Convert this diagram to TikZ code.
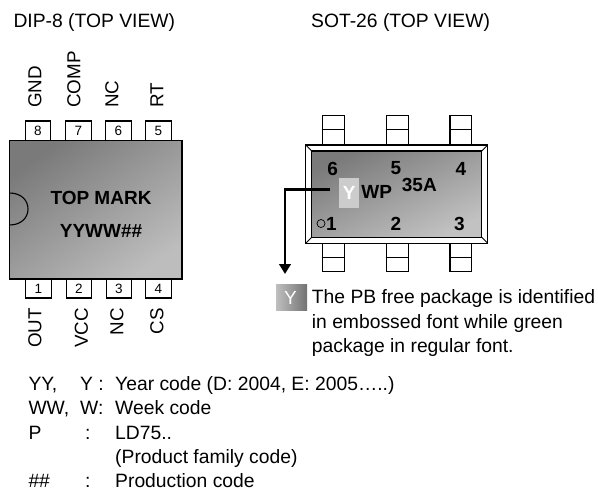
\documentclass[tikz,border=0pt]{standalone}
\usepackage{fontspec}
\setmainfont{Liberation Sans}
\usetikzlibrary{arrows.meta}
\newcommand{\fs}[1]{\fontsize{#1}{#1}\selectfont}
\tikzset{
  x=1pt,y=-1pt,
  line/.style={draw=black,line width=1.1pt},
  pinbox/.style={line,fill=white,minimum width=25.5pt,minimum height=19pt,inner sep=0pt,font=\fs{13.5}},
  pinbare/.style={line,fill=white,minimum width=21.7pt,inner sep=0pt},
  pinname/.style={rotate=90,inner sep=0pt,font=\fs{18.8}},
  bodytext/.style={inner sep=0pt,font=\fs{19}\bfseries},
  sotnum/.style={inner sep=0pt,font=\fs{19}\bfseries},
  plain/.style={inner sep=0pt,anchor=base west,font=\fs{19.3}},
  title/.style={inner sep=0pt,anchor=base west,font=\fs{19.3}},
}
\begin{document}
\begin{tikzpicture}
\useasboundingbox (0,0) rectangle (598,491);
% titles
\node[title] (t1) at (13.3,27) {DIP-8 (TOP VIEW)};
\node[title] (t2) at (311,27) {SOT-26 (TOP VIEW)};
% DIP pins
\node[pinbox,minimum height=20pt] (p8) at (38,131) {8};
\node[pinbox,minimum height=20pt] (p7) at (78.5,131) {7};
\node[pinbox,minimum height=20pt] (p6) at (118.5,131) {6};
\node[pinbox,minimum height=20pt] (p5) at (158.5,131) {5};
\node[pinbox] (p1) at (38.5,288.5) {1};
\node[pinbox] (p2) at (79,288.5) {2};
\node[pinbox] (p3) at (119,288.5) {3};
\node[pinbox] (p4) at (158.5,288.5) {4};
% DIP body
\shade[top color=black!52,bottom color=black!26,shading angle=35] (9.5,140.5) rectangle (182,279);
\draw[line] (9.5,140.5) rectangle (182,279);
\draw[line] (9.5,193) .. controls (22,193) and (28,201) .. (28,209) .. controls (28,217) and (22,225) .. (9.5,225);
\node[bodytext] (top) at (101,197.5) {TOP MARK};
\node[bodytext] (yy) at (101,231) {YYWW\#\#};
% DIP pin names
\node[pinname,anchor=west] (n8) at (35,108) {GND};
\node[pinname,anchor=west] (n7) at (74,108) {COMP};
\node[pinname,anchor=west] (n6) at (112,108) {NC};
\node[pinname,anchor=west] (n5) at (157,108) {RT};
\node[pinname,anchor=east] (n1) at (35,308) {OUT};
\node[pinname,anchor=east] (n2) at (81.5,308) {VCC};
\node[pinname,anchor=east] (n3) at (117,308) {NC};
\node[pinname,anchor=east] (n4) at (157,308) {CS};
% SOT pins
\foreach \xa/\nm in {333.2/a,397.5/b,460.8/c}{
  \node[pinbare,minimum height=14.3pt] (up\nm) at (\xa,122.7) {};
  \node[pinbare,minimum height=15.7pt] (um\nm) at (\xa,137.2) {};
  \node[pinbare,minimum height=14.4pt] (dm\nm) at (\xa,250.5) {};
  \node[pinbare,minimum height=13.3pt] (dn\nm) at (\xa,264.4) {};
}
% SOT body
\draw[line,fill=white] (305.7,145) rectangle (487.7,243.3);
\shade[top color=black!52,bottom color=black!24,shading angle=25] (311.7,151) rectangle (481.7,237.3);
\draw[line,line width=1.4pt] (311.7,151) rectangle (481.7,237.3);
\draw[line,line width=.9pt] (305.7,145) -- (311.7,151) (487.7,145) -- (481.7,151) (305.7,243.3) -- (311.7,237.3) (487.7,243.3) -- (481.7,237.3);
\node[sotnum] (s6) at (332.7,168.5) {6};
\node[sotnum] (s5) at (396,168.5) {5};
\node[sotnum] (s4) at (461,168.5) {4};
\node[sotnum] (s1) at (331.5,223.5) {1};
\node[sotnum] (s2) at (396,223.5) {2};
\node[sotnum] (s3) at (459.3,223.5) {3};
\node[draw=black,line width=.7pt,circle,minimum size=8pt,inner sep=0pt] (dot) at (321,223.5) {};
\node[sotnum] (code) at (419.3,185) {35A};
\node[sotnum] (wp) at (376.7,191.7) {WP};
\node[fill=black!20,minimum width=19.7pt,minimum height=30pt,inner sep=0pt,text=white,font=\fs{19}\bfseries] (ybox) at (349.2,193.3) {Y};
\coordinate (a0) at (330,189.7);
\coordinate (a1) at (285,189.7);
\coordinate (a2) at (285,274);
\draw[line width=2.7pt,-{Triangle[length=10pt,width=11.5pt]}] (a0) -- (a1) -- (a2);
% legend
\shade[left color=black!25,right color=black!55] (276,284) rectangle (307,310.7);
\node[inner sep=0pt,text=white,font=\fs{19}] (ylegend) at (290.5,298) {Y};
\node[plain] (l1) at (311.7,303) {The PB free package is identified};
\node[plain] (l2) at (311.7,328) {in embossed font while green};
\node[plain] (l3) at (311.7,352) {package in regular font.};
% key
\node[plain] (k1a) at (28.3,390.5) {YY,};
\node[plain] (k1b) at (80,390.5) {Y :};
\node[plain] (k1c) at (115,390.5) {Year code (D: 2004, E: 2005…..)};
\node[plain] (k2a) at (28.3,414.5) {WW,};
\node[plain] (k2b) at (80,414.5) {W:};
\node[plain] (k2c) at (115,414.5) {Week code};
\node[plain] (k3a) at (28.3,439) {P};
\node[plain] (k3b) at (85,439) {:};
\node[plain] (k3c) at (115,439) {LD75..};
\node[plain] (k4c) at (115,463.5) {(Product family code)};
\node[plain] (k5a) at (28.3,487.5) {\#\#};
\node[plain] (k5b) at (85,487.5) {:};
\node[plain] (k5c) at (115,487.5) {Production code};
\end{tikzpicture}
\end{document}
